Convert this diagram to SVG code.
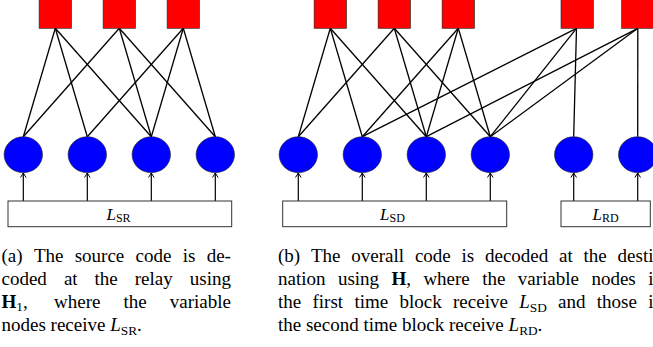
<svg xmlns="http://www.w3.org/2000/svg" width="653" height="347" viewBox="0 0 653 347">
<style>
.chk{fill:#ff0000;stroke:#222;stroke-width:0.6}
.var{fill:#0000ff;stroke:#222;stroke-width:0.6}
.box{fill:#ffffff;stroke:#333;stroke-width:1}
.edge{stroke:#000;stroke-width:1.3;fill:none}
.arr{stroke:#000;stroke-width:1.2;fill:none;marker-end:url(#tip)}
.lbl{font-family:"Liberation Serif","Times New Roman",serif;font-size:17px;fill:#000}
.cap{font-family:"Liberation Serif","Times New Roman",serif;font-size:19px;fill:#000}
.it{font-style:italic}
.bf{font-weight:bold}
.sub{font-size:13.3px}
.lsub{font-size:12px}
</style>
<defs>
<marker id="tip" markerUnits="userSpaceOnUse" markerWidth="10" markerHeight="10" refX="0" refY="0" viewBox="-6 -5 8 10" orient="auto">
<path d="M-4.5,-2.8 L0,0 L-4.5,2.8" fill="none" stroke="#000" stroke-width="1"/>
</marker>
</defs>

<g id="connectors">
<!-- left panel edges -->
<line class="edge" x1="55.3" y1="28.3" x2="23.3" y2="136.7"/>
<line class="edge" x1="55.3" y1="28.3" x2="87.3" y2="136.7"/>
<line class="edge" x1="55.3" y1="28.3" x2="151.3" y2="136.7"/>
<line class="edge" x1="119.3" y1="28.3" x2="23.3" y2="136.7"/>
<line class="edge" x1="119.3" y1="28.3" x2="151.3" y2="136.7"/>
<line class="edge" x1="119.3" y1="28.3" x2="215.3" y2="136.7"/>
<line class="edge" x1="183.3" y1="28.3" x2="87.3" y2="136.7"/>
<line class="edge" x1="183.3" y1="28.3" x2="151.3" y2="136.7"/>
<line class="edge" x1="183.3" y1="28.3" x2="215.3" y2="136.7"/>
<!-- right panel edges -->
<line class="edge" x1="330.3" y1="28.3" x2="298.3" y2="136.7"/>
<line class="edge" x1="330.3" y1="28.3" x2="362.3" y2="136.7"/>
<line class="edge" x1="330.3" y1="28.3" x2="426.3" y2="136.7"/>
<line class="edge" x1="394.3" y1="28.3" x2="298.3" y2="136.7"/>
<line class="edge" x1="394.3" y1="28.3" x2="426.3" y2="136.7"/>
<line class="edge" x1="394.3" y1="28.3" x2="490.3" y2="136.7"/>
<line class="edge" x1="458.3" y1="28.3" x2="362.3" y2="136.7"/>
<line class="edge" x1="458.3" y1="28.3" x2="426.3" y2="136.7"/>
<line class="edge" x1="458.3" y1="28.3" x2="490.3" y2="136.7"/>
<line class="edge" x1="576.5" y1="28.3" x2="362.3" y2="136.7"/>
<line class="edge" x1="576.5" y1="28.3" x2="490.3" y2="136.7"/>
<line class="edge" x1="576.5" y1="28.3" x2="573.7" y2="136.7"/>
<line class="edge" x1="637.8" y1="28.3" x2="426.3" y2="136.7"/>
<line class="edge" x1="637.8" y1="28.3" x2="490.3" y2="136.7"/>
<line class="edge" x1="637.8" y1="28.3" x2="637.7" y2="136.7"/>
<!-- input arrows -->
<line class="arr" x1="23.3" y1="201" x2="23.3" y2="173"/>
<line class="arr" x1="87.3" y1="201" x2="87.3" y2="173"/>
<line class="arr" x1="151.3" y1="201" x2="151.3" y2="173"/>
<line class="arr" x1="215.3" y1="201" x2="215.3" y2="173"/>
<line class="arr" x1="298.3" y1="201" x2="298.3" y2="173"/>
<line class="arr" x1="362.3" y1="201" x2="362.3" y2="173"/>
<line class="arr" x1="426.3" y1="201" x2="426.3" y2="173"/>
<line class="arr" x1="490.3" y1="201" x2="490.3" y2="173"/>
<line class="arr" x1="573.7" y1="201" x2="573.7" y2="173"/>
<line class="arr" x1="637.7" y1="201" x2="637.7" y2="173"/>
</g>

<!-- left panel check nodes -->
<g id="a-c1"><rect class="chk" x="39.1" y="-4" width="32.4" height="32.3"/></g>
<g id="a-c2"><rect class="chk" x="103.1" y="-4" width="32.4" height="32.3"/></g>
<g id="a-c3"><rect class="chk" x="167.1" y="-4" width="32.4" height="32.3"/></g>
<!-- left panel variable nodes -->
<g id="a-v1"><ellipse class="var" cx="23.3" cy="154.7" rx="19.2" ry="18"/></g>
<g id="a-v2"><ellipse class="var" cx="87.3" cy="154.7" rx="19.2" ry="18"/></g>
<g id="a-v3"><ellipse class="var" cx="151.3" cy="154.7" rx="19.2" ry="18"/></g>
<g id="a-v4"><ellipse class="var" cx="215.3" cy="154.7" rx="19.2" ry="18"/></g>
<g id="a-LSR">
<rect class="box" x="8" y="201" width="223.7" height="25.7"/>
<text class="lbl" x="118.5" y="219.8" text-anchor="middle"><tspan class="it">L</tspan><tspan class="lsub" dy="2.5">SR</tspan></text>
</g>

<!-- right panel check nodes -->
<g id="b-c1"><rect class="chk" x="314.1" y="-4" width="32.4" height="32.3"/></g>
<g id="b-c2"><rect class="chk" x="378.1" y="-4" width="32.4" height="32.3"/></g>
<g id="b-c3"><rect class="chk" x="442.1" y="-4" width="32.4" height="32.3"/></g>
<g id="b-c4"><rect class="chk" x="561" y="-4" width="32.4" height="32.3"/></g>
<g id="b-c5"><rect class="chk" x="621.6" y="-4" width="32.4" height="32.3"/></g>
<!-- right panel variable nodes -->
<g id="b-v1"><ellipse class="var" cx="298.3" cy="154.7" rx="19.2" ry="18"/></g>
<g id="b-v2"><ellipse class="var" cx="362.3" cy="154.7" rx="19.2" ry="18"/></g>
<g id="b-v3"><ellipse class="var" cx="426.3" cy="154.7" rx="19.2" ry="18"/></g>
<g id="b-v4"><ellipse class="var" cx="490.3" cy="154.7" rx="19.2" ry="18"/></g>
<g id="b-v5"><ellipse class="var" cx="573.7" cy="154.7" rx="19.2" ry="18"/></g>
<g id="b-v6"><ellipse class="var" cx="637.7" cy="154.7" rx="19.2" ry="18"/></g>
<g id="b-LSD">
<rect class="box" x="282.7" y="201" width="224" height="25.7"/>
<text class="lbl" x="392.5" y="219.8" text-anchor="middle"><tspan class="it">L</tspan><tspan class="lsub" dy="2.5">SD</tspan></text>
</g>
<g id="b-LRD">
<rect class="box" x="561" y="201" width="89.3" height="25.7"/>
<text class="lbl" x="605.5" y="219.8" text-anchor="middle"><tspan class="it">L</tspan><tspan class="lsub" dy="2.5">RD</tspan></text>
</g>

<!-- caption (a) -->
<g id="caption-a" class="cap">
<text y="262"><tspan x="1.5">(a)</tspan><tspan x="33.9">The</tspan><tspan x="74.7">source</tspan><tspan x="135.6">code</tspan><tspan x="182.8">is</tspan><tspan x="206.7">de-</tspan></text>
<text y="285"><tspan x="1.5">coded</tspan><tspan x="63.9">at</tspan><tspan x="94.6">the</tspan><tspan x="134.8">relay</tspan><tspan x="189.8">using</tspan></text>
<text y="308"><tspan x="1.5" class="bf">H</tspan><tspan class="sub" dy="3">1</tspan><tspan dy="-3">,</tspan><tspan x="54">where</tspan><tspan x="123.5">the</tspan><tspan x="169.8">variable</tspan></text>
<text y="331" x="1.5">nodes receive <tspan class="it">L</tspan><tspan class="sub" dy="4">SR</tspan><tspan dy="-4">.</tspan></text>
</g>

<!-- caption (b) -->
<g id="caption-b" class="cap">
<text y="262"><tspan x="278">(b)</tspan><tspan x="311">The</tspan><tspan x="351.3">overall</tspan><tspan x="414.9">code</tspan><tspan x="461.5">is</tspan><tspan x="485">decoded</tspan><tspan x="559.1">at</tspan><tspan x="583.6">the</tspan><tspan x="617.6">desti</tspan></text>
<text y="285"><tspan x="278">nation</tspan><tspan x="337.9">using</tspan><tspan x="391.5" class="bf">H</tspan><tspan>,</tspan><tspan x="423.4">where</tspan><tspan x="482.2">the</tspan><tspan x="517.8">variable</tspan><tspan x="591.4">nodes</tspan><tspan x="648.2">i</tspan></text>
<text y="308"><tspan x="278">the</tspan><tspan x="312.5">first</tspan><tspan x="354.4">time</tspan><tspan x="399.5">block</tspan><tspan x="453">receive</tspan><tspan x="519.2" class="it">L</tspan><tspan class="sub" dy="4">SD</tspan><tspan x="558" dy="-4">and</tspan><tspan x="596.8">those</tspan><tspan x="648.2">i</tspan></text>
<text y="331" x="278">the second time block receive <tspan class="it">L</tspan><tspan class="sub" dy="4">RD</tspan><tspan dy="-4">.</tspan></text>
</g>
</svg>
